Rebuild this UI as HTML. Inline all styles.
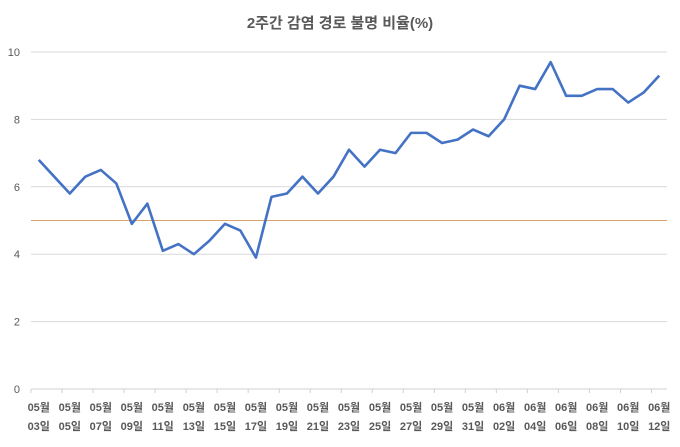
<!DOCTYPE html>
<html><head><meta charset="utf-8"><style>
body{margin:0;background:#fff;}
svg text{font-family:"Liberation Sans","Noto Sans CJK KR",sans-serif;}
</style></head><body>
<svg id="chart" width="680" height="442" viewBox="0 0 680 442">
<rect width="680" height="442" fill="#fff"/>
<text x="340" y="28" text-anchor="middle" font-size="15" font-weight="bold" fill="#595959">2주간 감염 경로 불명 비율(%)</text>
<g id="grid"></g><g id="xaxis"></g><g id="series"></g>
</svg>
<script>
const dates=["05-03","05-04","05-05","05-06","05-07","05-08","05-09","05-10","05-11","05-12","05-13","05-14","05-15","05-16","05-17","05-18","05-19","05-20","05-21","05-22","05-23","05-24","05-25","05-26","05-27","05-28","05-29","05-30","05-31","06-01","06-02","06-03","06-04","06-05","06-06","06-07","06-08","06-09","06-10","06-11","06-12"];
const ratios=[6.8,6.3,5.8,6.3,6.5,6.1,4.9,5.5,4.1,4.3,4.0,4.4,4.9,4.7,3.9,5.7,5.8,6.3,5.8,6.3,7.1,6.6,7.1,7.0,7.6,7.6,7.3,7.4,7.7,7.5,8.0,9.0,8.9,9.7,8.7,8.7,8.9,8.9,8.5,8.8,9.3];
const yTicks=[0,2,4,6,8,10];
const refValue=5;
const NS="http://www.w3.org/2000/svg";
const x0=31,x1=667,y0=389,y1=52;
const band=(x1-x0)/dates.length;
const X=i=>x0+band*(i+0.5);
const Y=v=>y0-(v/10)*(y0-y1);
function mk(t,a,p){const e=document.createElementNS(NS,t);for(const k in a)e.setAttribute(k,a[k]);p.appendChild(e);return e;}
const grid=document.getElementById('grid');
yTicks.forEach(v=>{
 const l=mk('line',{x1:x0,x2:x1,y1:Y(v),y2:Y(v),stroke:v===0?'#d0d0d0':'#d9d9d9','stroke-width':1},grid);
 
 
 const t=mk('text',{x:20,y:Y(v)+4,'text-anchor':'end','font-size':11,fill:'#595959'},grid);
 t.textContent=v;
 
 
});
const xa=document.getElementById('xaxis');
for(let i=0;i<=dates.length;i+=2){
 const tk=mk('line',{x1:x0+band*i,x2:x0+band*i,y1:y0,y2:y0+4,stroke:'#d0d0d0'},xa);
 
 
}
dates.forEach((d,i)=>{
 if(i%2)return;
 const [m,dd]=d.split('-');
 const t1=mk('text',{x:X(i),y:411,'text-anchor':'middle','font-size':11,'font-weight':'bold',fill:'#595959'},xa);
 t1.textContent=m+'월';
 
 
 const t2=mk('text',{x:X(i),y:430,'text-anchor':'middle','font-size':11,'font-weight':'bold',fill:'#595959'},xa);
 t2.textContent=dd+'일';
 
 
});
const s=document.getElementById('series');
const ref=mk('line',{x1:x0,x2:x1,y1:Y(refValue),y2:Y(refValue),stroke:'#d9a46b','stroke-width':1},s);


const pl=mk('polyline',{points:ratios.map((v,i)=>X(i)+','+Y(v)).join(' '),fill:'none',stroke:'#4472c4','stroke-width':2.6,'stroke-linejoin':'round'},s);


</script>
</body></html>
